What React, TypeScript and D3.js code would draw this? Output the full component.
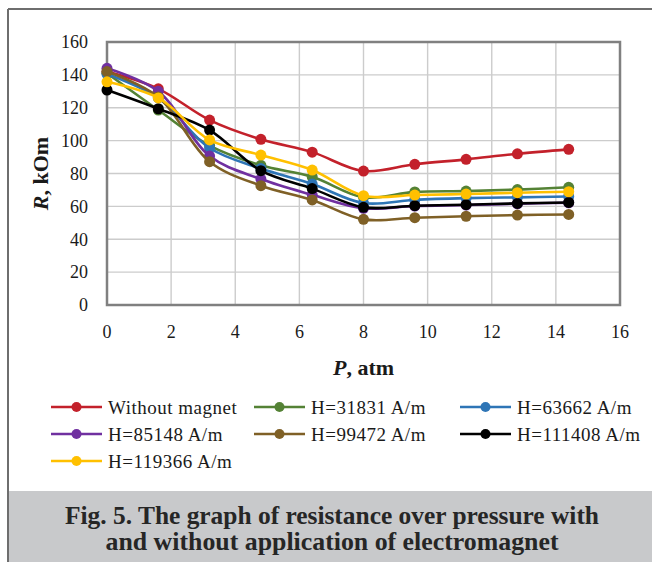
import React from 'react';
import * as d3 from 'd3';

// pressure, atm
const pressure = [0, 1.6, 3.2, 4.8, 6.4, 8, 9.6, 11.2, 12.8, 14.4];

// resistance, kOm
const withoutMagnet = [142, 131.5, 112.5, 100.8, 93, 81.5, 85.6, 88.6, 92, 94.7];
const h31831 = [141, 118.6, 97, 85, 78, 65.5, 68.8, 69.3, 70.2, 71.6];
const h63662 = [140.5, 126, 95.5, 83, 73.6, 62, 64, 65, 65.5, 66];
const h85148 = [144, 130, 90.6, 76.6, 67, 58.8, 60.2, 60.8, 61.6, 62.2];
const h99472 = [142, 126.5, 87.2, 72.6, 63.9, 52.1, 53.1, 54, 54.7, 55.1];
const h111408 = [130.8, 119.4, 106.4, 81.7, 70.8, 59.4, 60.4, 61, 61.8, 62.4];
const h119366 = [135.8, 126, 100.4, 91.2, 82.1, 66.5, 66.9, 67.5, 68.3, 68.9];

const seriesNames = [
  'Without magnet',
  'H=31831 A/m',
  'H=63662 A/m',
  'H=85148 A/m',
  'H=99472 A/m',
  'H=111408 A/m',
  'H=119366 A/m',
];
const seriesValues = [withoutMagnet, h31831, h63662, h85148, h99472, h111408, h119366];
const seriesColors = ['#c3212b', '#548235', '#2e75b6', '#7030a0', '#7f6026', '#000000', '#ffc000'];

const xTicks = [0, 2, 4, 6, 8, 10, 12, 14, 16];
const yTicks = [0, 20, 40, 60, 80, 100, 120, 140, 160];

const captionLines = [
  'Fig. 5. The graph of resistance over pressure with',
  'and without application of electromagnet',
];

const font = '"Book Antiqua", "Palatino Linotype", Palatino, "Liberation Serif", serif';

export default function App() {
  const width = 652;
  const height = 562;
  const plot = { left: 107, top: 42, right: 620, bottom: 305 };

  const x = d3.scaleLinear().domain([0, 16]).range([plot.left, plot.right]);
  const y = d3.scaleLinear().domain([0, 160]).range([plot.bottom, plot.top]);

  // excel-style smoothed line
  const line = d3
    .line<number>()
    .x((_, i) => x(pressure[i]))
    .y((d) => y(d))
    .curve(d3.curveCatmullRom.alpha(0.5));

  // legend layout: 3 columns
  const legendCols = [51, 254, 460];
  const legendRows = [407, 434, 461];

  return (
    <svg
      width={width}
      height={height}
      style={{ position: 'absolute', left: 0, top: 0, background: '#fff' }}
      fontFamily={font}
    >
      {/* outer frame */}
      <line x1={8} y1={9} x2={width} y2={9} stroke="#6e6e6e" strokeWidth={2} />
      <line x1={8} y1={9} x2={8} y2={height} stroke="#6e6e6e" strokeWidth={2} />

      {/* grid */}
      {xTicks.slice(1, -1).map((t) => (
        <line key={'gx' + t} x1={x(t)} x2={x(t)} y1={plot.top} y2={plot.bottom} stroke="#cccccc" strokeWidth={1.4} />
      ))}
      {yTicks.slice(1, -1).map((t) => (
        <line key={'gy' + t} x1={plot.left} x2={plot.right} y1={y(t)} y2={y(t)} stroke="#cccccc" strokeWidth={1.4} />
      ))}
      <rect
        x={plot.left}
        y={plot.top}
        width={plot.right - plot.left}
        height={plot.bottom - plot.top}
        fill="none"
        stroke="#808080"
        strokeWidth={2.5}
      />

      {/* tick labels */}
      {yTicks.map((t) => (
        <text key={'ty' + t} x={88} y={y(t)} dy="0.35em" textAnchor="end" fontSize={18} fill="#1a1a1a">
          {t}
        </text>
      ))}
      {xTicks.map((t) => (
        <text key={'tx' + t} x={x(t)} y={338} textAnchor="middle" fontSize={18} fill="#1a1a1a">
          {t}
        </text>
      ))}

      {/* axis titles */}
      <text x={x(8)} y={375} textAnchor="middle" fontSize={22} fontWeight="bold" fill="#1a1a1a">
        <tspan fontStyle="italic">P</tspan>, atm
      </text>
      <text
        transform={`translate(48,${(plot.top + plot.bottom) / 2}) rotate(-90)`}
        textAnchor="middle"
        fontSize={22}
        fontWeight="bold"
        fill="#1a1a1a"
      >
        <tspan fontStyle="italic">R</tspan>, kOm
      </text>

      {/* series */}
      {seriesValues.map((vals, si) => (
        <g key={'s' + si}>
          <path d={line(vals) || ''} fill="none" stroke={seriesColors[si]} strokeWidth={2.6} />
          {vals.map((v, i) => (
            <circle key={i} cx={x(pressure[i])} cy={y(v)} r={5.5} fill={seriesColors[si]} />
          ))}
        </g>
      ))}

      {/* legend */}
      {seriesNames.map((name, i) => {
        const lx = legendCols[i % 3];
        const ly = legendRows[Math.floor(i / 3)];
        return (
          <g key={'l' + i}>
            <line x1={lx} x2={lx + 51} y1={ly} y2={ly} stroke={seriesColors[i]} strokeWidth={2.6} />
            <circle cx={lx + 25.5} cy={ly} r={5} fill={seriesColors[i]} />
            <text x={lx + 57} y={ly} dy="0.35em" fontSize={19} letterSpacing={0.5} fill="#1a1a1a">
              {name}
            </text>
          </g>
        );
      })}

      {/* caption */}
      <rect x={9} y={491} width={width - 9} height={height - 491} fill="#c8c9cb" />
      {captionLines.map((c, i) => (
        <text
          key={'c' + i}
          x={332}
          y={524 + i * 26}
          textAnchor="middle"
          fontSize={25}
          fontWeight="bold"
          fill="#262626"
          textLength={i === 0 ? 534 : 453}
          lengthAdjust="spacingAndGlyphs"
        >
          {c}
        </text>
      ))}
    </svg>
  );
}
